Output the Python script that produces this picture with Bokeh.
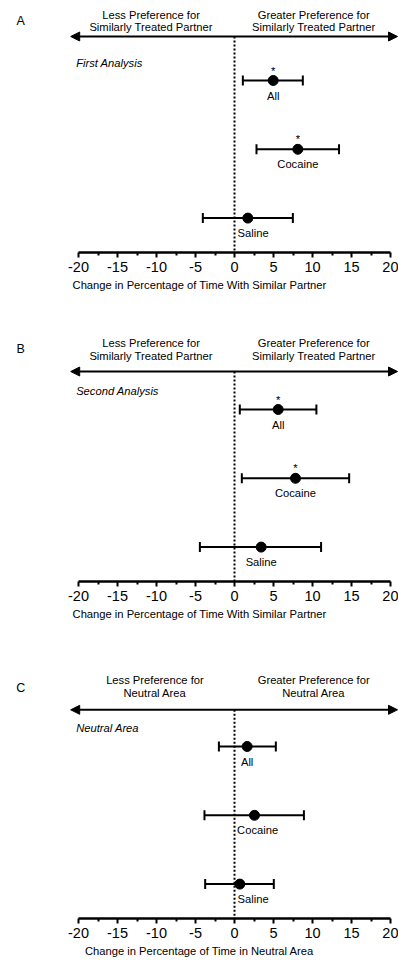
from bokeh.plotting import figure
from bokeh.layouts import column
from bokeh.models import (Range1d, FixedTicker, Whisker, TeeHead, Arrow,
                          NormalHead, ColumnDataSource)
from bokeh.core.properties import value
from bokeh.embed import file_html
from bokeh.resources import INLINE

# ---------------- data ----------------
groups = ["All", "Cocaine", "Saline"]

a_mean = [4.96, 8.12, 1.71]
a_lo = [1.07, 2.82, -4.06]
a_hi = [8.76, 13.40, 7.48]
a_sig = [True, True, False]

b_mean = [5.60, 7.82, 3.42]
b_lo = [0.68, 0.94, -4.44]
b_hi = [10.50, 14.70, 11.10]
b_sig = [True, True, False]

c_mean = [1.62, 2.56, 0.68]
c_lo = [-2.00, -3.85, -3.76]
c_hi = [5.30, 8.90, 5.04]
c_sig = [False, False, False]

x_ticks = [-20, -15, -10, -5, 0, 5, 10, 15, 20]
x_minor = [-17.5, -12.5, -7.5, -2.5, 2.5, 7.5, 12.5, 17.5]

hdr_similar = ["Less Preference for", "Similarly Treated Partner",
               "Greater Preference for", "Similarly Treated Partner"]
hdr_neutral = ["Less Preference for", "Neutral Area",
               "Greater Preference for", "Neutral Area"]

xlabel_similar = "Change in Percentage of Time With Similar Partner"
xlabel_neutral = "Change in Percentage of Time in Neutral Area"

# ---------------- style / layout ----------------
FONT = "Liberation Sans"
TXT = "11.2px"
W = 398
PXU = 7.8                    # px per x unit
X0 = -234 / PXU
X1 = X0 + W / PXU
ROW_PX = 68.8                # px per row
FRAME_H = 244
LABEL_W = [12, 40, 31]       # approx px width of group labels


def make_panel(letter, title, hdrs, left_x, xlabel, mean, lo, hi, sig,
               height, border_top, border_bottom, lay):
    y_bottom = 2 + 34.4 / ROW_PX
    y_top = y_bottom - FRAME_H / ROW_PX
    p = figure(width=W, height=height, x_range=Range1d(X0, X1),
               y_range=Range1d(y_bottom, y_top), output_backend="svg",
               toolbar_location=None, y_axis_location=None,
               min_border_left=0, min_border_right=0, min_border_top=border_top,
               min_border_bottom=border_bottom)
    p.outline_line_color = None
    p.xgrid.visible = False
    p.ygrid.visible = False
    p.background_fill_color = "white"
    p.border_fill_color = "white"

    ax = p.xaxis[0]
    ax.ticker = FixedTicker(ticks=x_ticks, minor_ticks=x_minor)
    ax.major_label_overrides = {t: str(t) for t in x_ticks}
    ax.bounds = (-20, 20)
    ax.axis_line_width = 2.5
    ax.axis_line_color = "black"
    ax.major_tick_line_width = 2
    ax.minor_tick_line_width = 2
    ax.major_tick_line_color = "black"
    ax.minor_tick_line_color = "black"
    ax.major_tick_out = 5
    ax.major_tick_in = 0
    ax.minor_tick_out = 3
    ax.minor_tick_in = 0
    ax.major_label_text_font = FONT
    ax.major_label_text_font_size = "14.5px"
    ax.major_label_text_color = "black"
    ax.major_label_standoff = 4
    ax.axis_label = xlabel
    ax.axis_label_text_font = FONT
    ax.axis_label_text_font_size = TXT
    ax.axis_label_text_font_style = "normal"
    ax.axis_label_text_color = "black"
    ax.axis_label_standoff = 4

    px = 1.0 / ROW_PX
    arrow_y = lay["arrow"] * px

    # dotted zero line
    p.segment(x0=[0], y0=[arrow_y], x1=[0], y1=[y_bottom], line_color="black",
              line_width=2, line_dash="2 2")

    # double arrow
    p.add_layout(Arrow(x_start=-21.0, x_end=20.9, y_start=arrow_y, y_end=arrow_y,
                       line_width=2, line_color="black",
                       start=NormalHead(size=9, fill_color="black", line_color="black", line_width=1),
                       end=NormalHead(size=9, fill_color="black", line_color="black", line_width=1)))

    # headers
    h1, h2 = lay["h1"] * px, lay["h2"] * px
    p.text(x=[left_x, left_x, 10.15, 10.15], y=[h1, h2, h1, h2], text=hdrs,
           text_align="center", text_baseline="middle", text_font=value(FONT),
           text_font_size=TXT, text_color="black")

    # panel letter
    p.text(x=[-27.4], y=[lay["letter"] * px], text=[letter], text_align="center",
           text_baseline="middle", text_font=value(FONT), text_font_size="12.5px",
           text_color="black")

    # italic analysis title
    p.text(x=[-20.3], y=[lay["italic"] * px], text=[title], text_align="left",
           text_baseline="middle", text_font=value(FONT), text_font_size=TXT,
           text_font_style="italic", text_color="black")

    rows = list(range(len(groups)))
    src = ColumnDataSource(dict(y=rows, mean=mean, lo=lo, hi=hi))
    p.add_layout(Whisker(source=src, base="y", lower="lo", upper="hi",
                         dimension="width", line_width=2, line_color="black",
                         lower_head=TeeHead(size=10, line_width=2, line_color="black"),
                         upper_head=TeeHead(size=10, line_width=2, line_color="black")))
    p.scatter("mean", "y", source=src, size=10, color="black")

    # significance stars
    sx = [m for m, s in zip(mean, sig) if s]
    sy = [r for r, s in zip(rows, sig) if s]
    if sx:
        p.text(x=sx, y=sy, text=["*"] * len(sx), y_offset=-10, text_align="center",
               text_baseline="middle", text_font=value(FONT), text_font_size=TXT,
               text_color="black")

    # group labels (shifted right when they would cross the dotted line)
    lx = []
    for m, wpx in zip(mean, LABEL_W):
        half = wpx / 2 / PXU
        lx.append(m if m - half >= 0.35 else 0.4 + half)
    p.text(x=lx, y=rows, text=groups, y_offset=15, text_align="center",
           text_baseline="middle", text_font=value(FONT), text_font_size=TXT,
           text_color="black")
    return p


pA = make_panel("A", "First Analysis", hdr_similar, -10.7, xlabel_similar,
                a_mean, a_lo, a_hi, a_sig, 337, 8, 85,
                dict(h1=-66, h2=-54, letter=-60, arrow=-44, italic=-18))
pB = make_panel("B", "Second Analysis", hdr_similar, -10.7, xlabel_similar,
                b_mean, b_lo, b_hi, b_sig, 337, 0, 93,
                dict(h1=-66.3, h2=-54, letter=-61, arrow=-38, italic=-19))
pC = make_panel("C", "Neutral Area", hdr_neutral, -10.2, xlabel_neutral,
                c_mean, c_lo, c_hi, c_sig, 286, 0, 42,
                dict(h1=-66.7, h2=-54, letter=-58.7, arrow=-36.7, italic=-18.4))

layout = column(pA, pB, pC, spacing=0)
open("out.html", "w").write(file_html(layout, INLINE))
